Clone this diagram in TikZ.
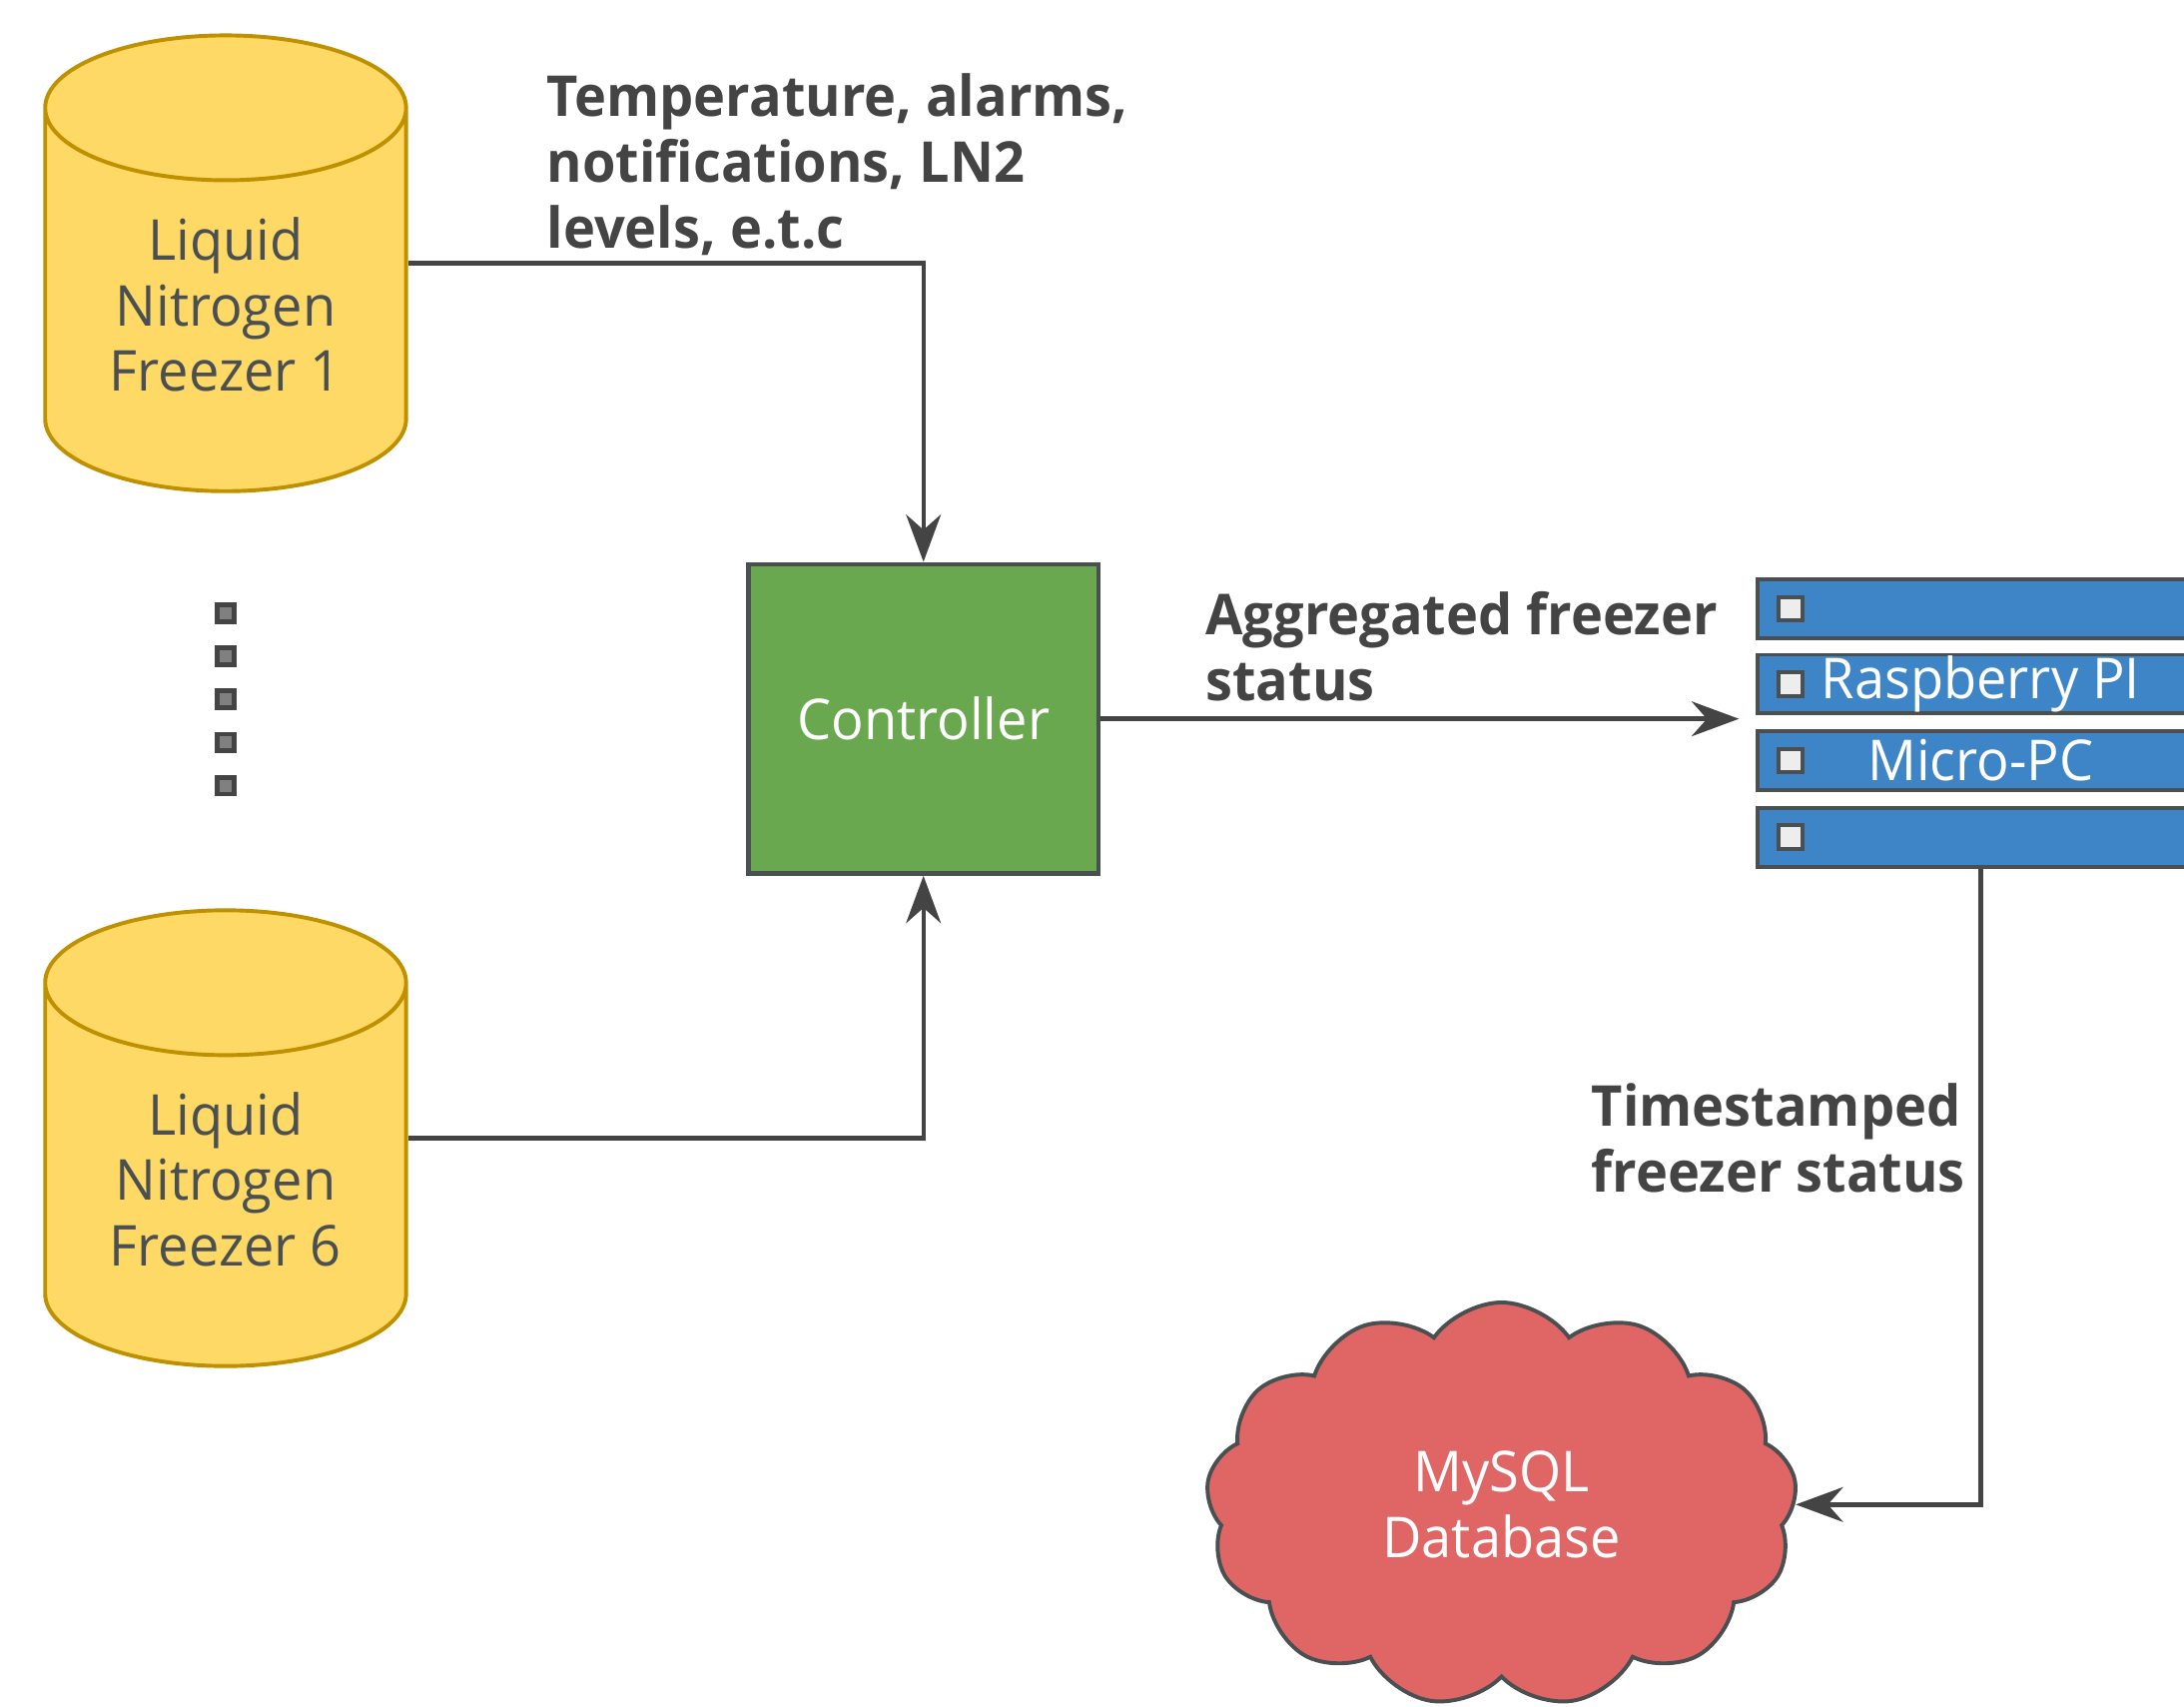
\documentclass[tikz,border=0pt]{standalone}
\usepackage{fontspec}
\setmainfont{Open Sans}[FakeStretch=0.96]
\usetikzlibrary{shapes.geometric,shapes.symbols,arrows.meta}
\definecolor{tankfill}{HTML}{FFD966}
\definecolor{tankline}{HTML}{BF9000}
\definecolor{ctrlfill}{HTML}{6AA84F}
\definecolor{barfill}{HTML}{3D85C6}
\definecolor{dbfill}{HTML}{E06666}
\definecolor{darkline}{HTML}{4A4F52}
\definecolor{wire}{HTML}{444444}
\begin{document}
\begin{tikzpicture}[
        x=0.01cm,
        y=-0.01cm,
        font=\fontsize{11.5}{13.4}\selectfont
    ]
    \tikzset{
        tank/.style = {cylinder, shape border rotate=90, aspect=0.433, inner xsep=1.2cm, inner ysep=0pt, anchor=shape center, draw=tankline, fill=tankfill, line width=0.8pt, minimum width=2.59cm, minimum height=3.27cm},
        tanktext/.style = {align=center, text=darkline},
        ctrlbox/.style = {rectangle, draw=darkline, fill=ctrlfill, line width=0.9pt, text=white, minimum width=2.51cm, minimum height=2.22cm},
        barnode/.style = {rectangle, draw=darkline, fill=barfill, line width=0.8pt, text=white, inner sep=0pt, minimum width=3.2cm, minimum height=0.42cm},
        sqnode/.style = {rectangle, draw=darkline, fill=white!93!black, line width=0.8pt, inner sep=0pt, minimum size=0.17cm},
        dotnode/.style = {rectangle, draw=wire, fill=gray, line width=1pt, inner sep=0pt, minimum size=0.12cm},
        cloudnode/.style = {cloud, cloud puffs=13, cloud puff arc=110, aspect=1.46, draw=darkline, fill=dbfill, line width=0.8pt, text=white, align=center, minimum width=4.24cm, minimum height=2.9cm},
        labeltxt/.style = {align=left, anchor=west, inner sep=0pt, font=\fontsize{11.5}{13.4}\selectfont\bfseries, text=wire},
        edgea/.style = {line width=0.9pt, wire, -{Stealth[length=0.34cm,width=0.25cm,inset=0.11cm]}},
    }
    \useasboundingbox (0,0) rectangle (1568,1225);
    \clip (0,0) rectangle (1568,1225);
    \node[tank, label={[tanktext, yshift=0.23cm]center:Liquid\\Nitrogen\\Freezer 1}] at (162,189) (fz1) {};
    \node[tank, label={[tanktext, yshift=0.23cm]center:Liquid\\Nitrogen\\Freezer 6}] at (162,817) (fz6) {};
    %
    \node[dotnode] at (162,440) (d1) {};
    \node[dotnode] at (162,471) (d2) {};
    \node[dotnode] at (162,502) (d3) {};
    \node[dotnode] at (162,533) (d4) {};
    \node[dotnode] at (162,564) (d5) {};
    %
    \node[ctrlbox] at (663,516) (ctrl) {Controller};
    %
    \node[barnode] at (1422,437) (b1) {};
    \node[barnode] at (1422,491) (b2) {Raspberry PI};
    \node[barnode] at (1422,546) (b3) {Micro-PC};
    \node[barnode] at (1422,601) (b4) {};
    \node[sqnode] at ([xshift=0.25cm]b1.west) (s1) {};
    \node[sqnode] at ([xshift=0.25cm]b2.west) (s2) {};
    \node[sqnode] at ([xshift=0.25cm]b3.west) (s3) {};
    \node[sqnode] at ([xshift=0.25cm]b4.west) (s4) {};
    %
    \node[cloudnode] at (1078,1080) (db) {MySQL\\Database};
    %
    \node[labeltxt] at (392,118) (lab1) {Temperature, alarms,\\notifications, LN2\\levels, e.t.c};
    \node[labeltxt] at (865,464) (lab2) {Aggregated freezer\\status};
    \node[labeltxt] at (1142,817) (lab3) {Timestamped\\freezer status};
    %
    \draw[edgea] (fz1.east |- fz1.shape center) -| (ctrl.north);
    \draw[edgea] (fz6.east |- fz6.shape center) -| (ctrl.south);
    \draw[edgea, shorten >=0.12cm] (ctrl.east) -- (ctrl.east -| b2.west);
    \draw[edgea] (b4.south) |- (db.east);
\end{tikzpicture}
\end{document}
